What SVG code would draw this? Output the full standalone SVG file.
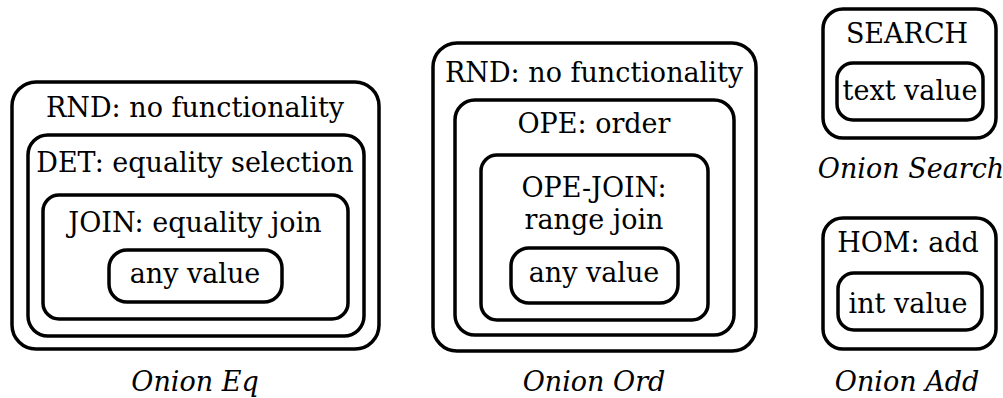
<svg xmlns="http://www.w3.org/2000/svg" width="1003" height="398" viewBox="0 0 1003 398">
<style>
.b{fill:none;stroke:#000;stroke-width:3.5}
text{fill:#000;text-anchor:middle;font-size:27px;font-family:"DejaVu Serif",serif}
.c{font-style:italic}
</style>
<rect width="1003" height="398" fill="#fff"/>
<g id="onion-eq">
<rect class="b" x="12" y="82" width="367" height="267" rx="24"/>
<rect class="b" x="28" y="135" width="336" height="201" rx="20"/>
<rect class="b" x="43" y="195" width="305" height="124" rx="16"/>
<rect class="b" x="109" y="250" width="173" height="52" rx="18"/>
<text x="195" y="117">RND: no functionality</text>
<text x="195" y="172">DET: equality selection</text>
<text x="195" y="232">JOIN: equality join</text>
<text x="195" y="283">any value</text>
<text class="c" x="195" y="391">Onion Eq</text>
</g>
<g id="onion-ord">
<rect class="b" x="433" y="43" width="323" height="308" rx="24"/>
<rect class="b" x="455" y="100" width="279" height="235" rx="20"/>
<rect class="b" x="481" y="155" width="227" height="165" rx="16"/>
<rect class="b" x="511" y="248" width="167" height="55" rx="18"/>
<text x="594" y="82">RND: no functionality</text>
<text x="594" y="133">OPE: order</text>
<text x="594" y="197">OPE-JOIN:</text>
<text x="594" y="229">range join</text>
<text x="594" y="282">any value</text>
<text class="c" x="594" y="391">Onion Ord</text>
</g>
<g id="onion-search">
<rect class="b" x="823" y="9" width="173" height="129" rx="20"/>
<rect class="b" x="837" y="63" width="146" height="57" rx="16"/>
<text x="907" y="43">SEARCH</text>
<text x="910" y="100">text value</text>
<text class="c" x="911" y="178">Onion Search</text>
</g>
<g id="onion-add">
<rect class="b" x="823" y="218" width="173" height="131" rx="20"/>
<rect class="b" x="838" y="273" width="144" height="57" rx="16"/>
<text x="908" y="252">HOM: add</text>
<text x="908" y="313">int value</text>
<text class="c" x="907" y="391">Onion Add</text>
</g>
<g id="connectors"/>
</svg>
